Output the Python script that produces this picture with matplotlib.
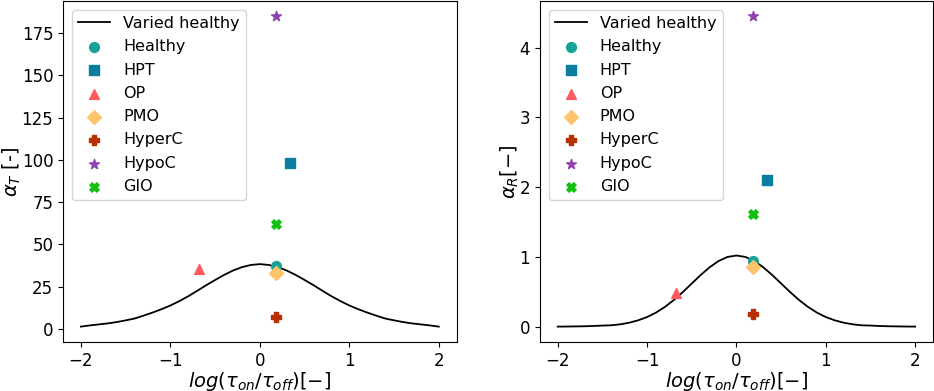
import matplotlib.pyplot as plt

# varied healthy curves
x_curve = [-2.0, -1.9, -1.8, -1.7, -1.6, -1.5, -1.4, -1.3, -1.2, -1.1, -1.0,
           -0.9, -0.8, -0.7, -0.6, -0.5, -0.4, -0.3, -0.2, -0.1, 0.0,
           0.1, 0.2, 0.3, 0.4, 0.5, 0.6, 0.7, 0.8, 0.9, 1.0,
           1.1, 1.2, 1.3, 1.4, 1.5, 1.6, 1.7, 1.8, 1.9, 2.0]
alphaT_curve = [1.3, 2.0, 2.6, 3.2, 4.0, 5.0, 6.1, 7.8, 9.6, 11.6, 13.8,
                16.4, 19.3, 22.5, 25.8, 28.9, 31.9, 34.5, 36.5, 37.8, 38.3,
                37.8, 36.5, 34.5, 31.9, 28.9, 25.8, 22.5, 19.3, 16.4, 13.8,
                11.6, 9.6, 7.8, 6.1, 5.0, 4.0, 3.2, 2.6, 2.0, 1.3]
alphaR_curve = [0.001, 0.002, 0.004, 0.006, 0.01, 0.016, 0.02, 0.034, 0.057, 0.091, 0.138,
                0.202, 0.284, 0.383, 0.497, 0.619, 0.741, 0.852, 0.942, 1.0, 1.02,
                1.0, 0.942, 0.852, 0.741, 0.619, 0.497, 0.383, 0.284, 0.202, 0.138,
                0.091, 0.057, 0.034, 0.02, 0.016, 0.01, 0.006, 0.004, 0.002, 0.001]

# disease cases
cases = ["Healthy", "HPT", "OP", "PMO", "HyperC", "HypoC", "GIO"]
case_x = [0.18, 0.34, -0.68, 0.18, 0.18, 0.18, 0.18]
case_alphaT = [37.3, 98.3, 35.2, 33.2, 6.9, 185.0, 61.9]
case_alphaR = [0.94, 2.1, 0.49, 0.86, 0.18, 4.45, 1.61]
markers = ["o", "s", "^", "D", "P", "*", "X"]
sizes = [50, 45, 50, 50, 50, 55, 45]
colors = ["#17a398", "#0b7ea0", "#ff5a5f", "#ffc36b", "#b83000", "#8e44ad", "#11c011"]

fig = plt.figure(figsize=(9.34, 3.91), dpi=100)
ax1 = fig.add_axes([0.0675, 0.125, 0.4215, 0.873])
ax2 = fig.add_axes([0.578, 0.125, 0.421, 0.873])

for ax, curve, vals, ylab in [(ax1, alphaT_curve, case_alphaT, r"$\alpha_T$ [-]"),
                              (ax2, alphaR_curve, case_alphaR, r"$\alpha_R[-]$")]:
    ax.plot(x_curve, curve, color="black", lw=1.3, label="Varied healthy")
    for i in range(len(cases)):
        ax.scatter(case_x[i], vals[i], marker=markers[i], color=colors[i],
                   s=sizes[i], label=cases[i], zorder=3)
    ax.set_xlabel(r"$log(\tau_{on}/\tau_{off})[-]$", fontsize=14, labelpad=0)
    ax.set_ylabel(ylab, fontsize=14, labelpad=-1)
    ax.tick_params(labelsize=12)
    ax.set_xticks([-2, -1, 0, 1, 2])
    ax.legend(loc="upper left", fontsize=11.5, labelspacing=0.52, borderaxespad=0.55)

ax2.set_yticks([0, 1, 2, 3, 4])

plt.savefig("out.png", dpi=100)
